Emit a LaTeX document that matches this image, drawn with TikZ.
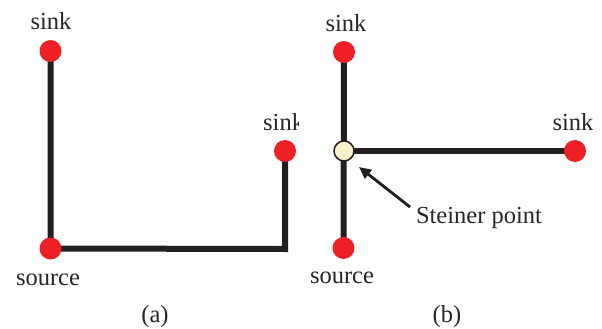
\documentclass[tikz,border=0pt]{standalone}
\usepackage{fontspec}
\setmainfont{Liberation Serif}
\usetikzlibrary{arrows.meta,backgrounds}
\definecolor{dotred}{HTML}{EE2026}
\definecolor{cream}{HTML}{FFF2CC}
\definecolor{wire}{HTML}{231F20}
\begin{document}
\begin{tikzpicture}[x=1pt,y=-1pt,
  terminal/.style={circle,fill=dotred,draw=none,minimum size=22pt,inner sep=0pt},
  steiner/.style={circle,fill=cream,draw=wire,line width=1.5pt,minimum size=20pt,inner sep=0pt},
  wirestyle/.style={draw=wire,line width=6pt,line join=miter},
  lbl/.style={anchor=base,inner sep=0pt,font=\fontsize{24.5}{29}\selectfont,text=black!85},
  pointer/.style={draw=wire,line width=2.8pt,-{Triangle[length=12pt,width=11pt]}}]
\useasboundingbox (0,0) rectangle (602,329);
% panel (a)
\node[terminal] (as1) at (50.5,51) {};
\node[terminal] (asrc) at (50.5,248.5) {};
\node[terminal] (as2) at (285,151) {};
\coordinate (acorner) at (285,249);
\node[lbl] (las1) at (51,30) {sink};
\node[lbl] (lasrc) at (48,285) {source};
\begin{scope}
\clip (0,0) rectangle (298.5,329);
\node[lbl,anchor=base west] (las2) at (263,130) {sink};
\end{scope}
\node[lbl] (capa) at (155,322) {(a)};
% panel (b)
\node[terminal] (bs1) at (344,52) {};
\node[terminal] (bsrc) at (343.5,248) {};
\node[terminal] (bs2) at (575,151) {};
\node[steiner] (bst) at (344,151) {};
\node[lbl] (lbs1) at (346,32) {sink};
\node[lbl] (lbsrc) at (342,283) {source};
\node[lbl] (lbs2) at (573,130) {sink};
\node[lbl] (lbst) at (479,223) {Steiner point};
\node[lbl] (capb) at (447,322) {(b)};
\coordinate (arrtail) at (410,207);
\coordinate (arrtip) at (359,167);
\draw[pointer] (arrtail) -- (arrtip);
\begin{scope}[on background layer]
\draw[wirestyle] (as1.center) -- (asrc.center) -- (acorner) -- (as2.center);
\draw[wirestyle] (bs1.center) -- (bsrc.center);
\draw[wirestyle] (bst.center) -- (bs2.center);
\end{scope}
\end{tikzpicture}
\end{document}
